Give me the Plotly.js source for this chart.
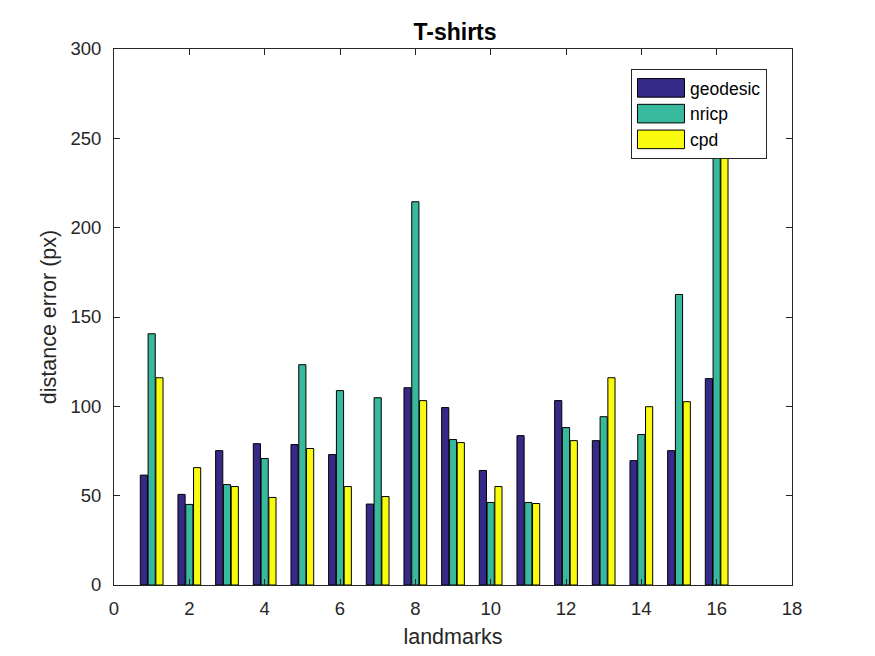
<!DOCTYPE html>
<html>
<head>
<meta charset="utf-8">
<script src="https://cdn.plot.ly/plotly-3.0.1.min.js"></script>
<style>
  html, body { margin: 0; padding: 0; background: #fff; }
  #chart { width: 875px; height: 656px; }
</style>
</head>
<body>
<div id="chart"></div>
<script>
// landmark index and error per method (px)
var landmarks = [1, 2, 3, 4, 5, 6, 7, 8, 9, 10, 11, 12, 13, 14, 15, 16];
var geodesic = [61.5, 50.7, 75.2, 79.1, 78.6, 73.0, 45.3, 110.4, 99.3, 64.1, 83.6, 103.2, 80.8, 69.6, 75.2, 115.5];
var nricp    = [140.6, 45.1, 56.2, 70.8, 123.3, 108.8, 104.8, 214.5, 81.4, 46.2, 46.2, 88.1, 94.2, 84.2, 162.6, 280];
var cpd      = [116.0, 65.7, 55.1, 49.0, 76.4, 55.1, 49.5, 103.2, 79.7, 55.1, 45.6, 80.8, 116.0, 99.8, 102.6, 275];

var xTicks = [0, 2, 4, 6, 8, 10, 12, 14, 16, 18];
var yTicks = [0, 50, 100, 150, 200, 250, 300];

var txt = '#262626';
var fnt = 'Liberation Sans, Arial, Helvetica, sans-serif';

function series(name, vals, color) {
    return {
        x: landmarks,
        y: vals,
        type: 'bar',
        name: name,
        marker: {color: color, line: {color: '#000000', width: 1}},
        hoverinfo: 'none'
    };
}

var traces = [
    series('geodesic', geodesic, '#352a87'),
    series('nricp', nricp, '#38b99e'),
    series('cpd', cpd, '#f9fb0e')
];

var layout = {
    width: 875,
    height: 656,
    paper_bgcolor: '#ffffff',
    plot_bgcolor: '#ffffff',
    font: {family: fnt, color: txt, size: 18},
    margin: {t: 49, r: 83, l: 114, b: 71},
    title: {text: '<b>T-shirts</b>', font: {size: 23, color: '#000000'},
            xref: 'paper', x: 0.503, xanchor: 'center', y: 0.951, yanchor: 'middle'},
    barmode: 'group',
    bargap: 0.38,
    bargroupgap: 0.08,
    showlegend: true,
    legend: {
        x: 0.7625, xanchor: 'left', y: 0.9627, yanchor: 'top',
        bgcolor: '#ffffff', bordercolor: '#262626', borderwidth: 1,
        font: {size: 17.5, color: '#000000'},
        itemwidth: 48,
        tracegroupgap: 0
    },
    xaxis: {
        range: [0, 18],
        tickvals: xTicks,
        ticktext: xTicks.map(String),
        ticks: 'inside', ticklen: 6, tickcolor: txt,
        showline: true, linecolor: txt, linewidth: 1, mirror: 'ticks',
        showgrid: false, zeroline: false,
        tickfont: {size: 18.5},
        ticklabelstandoff: 7,
        title: {text: 'landmarks', font: {size: 21.5}, standoff: 10}
    },
    yaxis: {
        range: [0, 300],
        tickvals: yTicks,
        ticktext: yTicks.map(String),
        ticks: 'inside', ticklen: 6, tickcolor: txt,
        showline: true, linecolor: txt, linewidth: 1, mirror: 'ticks',
        showgrid: false, zeroline: false,
        tickfont: {size: 18.5},
        ticklabelstandoff: 8,
        title: {text: 'distance error (px)', font: {size: 21.5}, standoff: 7}
    }
};

Plotly.newPlot('chart', traces, layout, {displayModeBar: false, staticPlot: true}).then(function(gd) {
    // MATLAB-style wide legend swatches
    gd.querySelectorAll('.legend .legendpoints path').forEach(function(p) {
        p.setAttribute('d', 'M23.5,9.3H-23.5V-9.3H23.5Z');
    });
});
</script>
</body>
</html>
